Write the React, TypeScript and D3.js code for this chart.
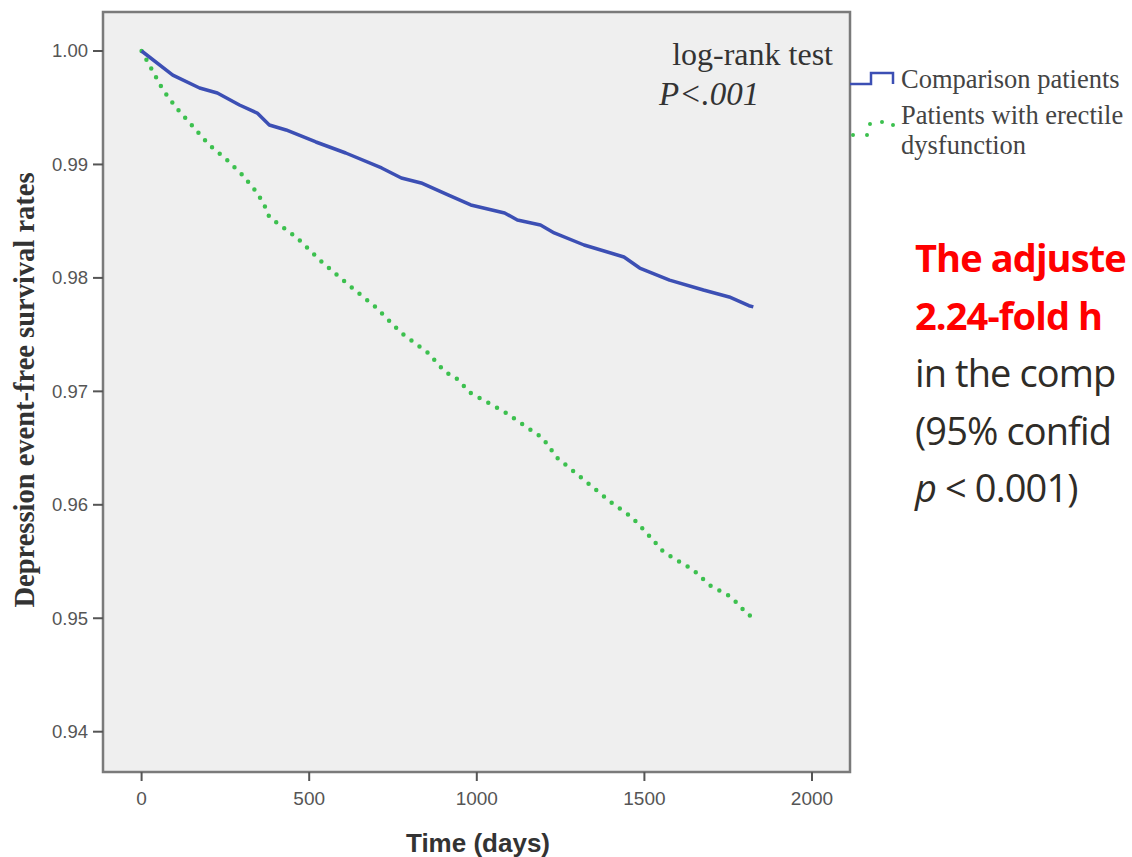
import * as d3 from 'd3'

// survival curves (days, survival rate)
const comparisonDays = [0, 93, 173, 226, 292, 345, 381, 431, 520, 609, 716, 775, 834, 914, 982, 1083, 1121, 1190, 1231, 1320, 1439, 1486, 1575, 1676, 1753, 1812, 1825]
const comparisonRates = [1.0, 0.99788, 0.99674, 0.9963, 0.99524, 0.99453, 0.99348, 0.99304, 0.99198, 0.99101, 0.98969, 0.98881, 0.98837, 0.98731, 0.98643, 0.98572, 0.9851, 0.98466, 0.98396, 0.9829, 0.98184, 0.98087, 0.97981, 0.97893, 0.97832, 0.97755, 0.97745]

const edDays = [0, 64, 104, 152, 202, 252, 301, 345, 366, 381, 461, 538, 618, 698, 775, 855, 905, 935, 982, 1083, 1196, 1240, 1320, 1403, 1462, 1507, 1557, 1646, 1694, 1759, 1810, 1825]
const edRates = [1.0, 0.99656, 0.99498, 0.99339, 0.99171, 0.99048, 0.98907, 0.98748, 0.98643, 0.98537, 0.9836, 0.9814, 0.97937, 0.97743, 0.97514, 0.97338, 0.97171, 0.97127, 0.96985, 0.96818, 0.96589, 0.96413, 0.96219, 0.96016, 0.95892, 0.95751, 0.95584, 0.95425, 0.95293, 0.95187, 0.95029, 0.9501]

const xTicks = [0, 500, 1000, 1500, 2000]
const yTicks = [0.94, 0.95, 0.96, 0.97, 0.98, 0.99, 1.0]

// the note runs off the right edge of the slide; only this much is visible
const noteLines = [
  { text: 'The adjuste', red: true },
  { text: '2.24-fold h', red: true },
  { text: 'in the comp', red: false },
  { text: '(95% confid', red: false },
]

const W = 1132
const H = 857
const frame = { left: 103, right: 850, top: 12, bottom: 772 }

export default function App() {
  const x = d3.scaleLinear().domain([0, 2000]).range([141.6, 812])
  const y = d3.scaleLinear().domain([0.94, 1.0]).range([731.7, 51])

  const line = d3.line<[number, number]>().x((d) => x(d[0])).y((d) => y(d[1]))
  const blue = line(comparisonDays.map((d, i) => [d, comparisonRates[i]]))
  const green = line(edDays.map((d, i) => [d, edRates[i]]))

  const tickFont = '"Liberation Sans", Arial, sans-serif'
  const serif = '"Liberation Serif", "Times New Roman", serif'
  const noteFont = '"Open Sans", sans-serif'

  return (
    <svg width={W} height={H} style={{ position: 'absolute', left: 0, top: 0, background: '#fff' }}>
      <rect x={frame.left} y={frame.top} width={frame.right - frame.left} height={frame.bottom - frame.top}
        fill="#efefef" stroke="#7a7a7a" strokeWidth={2.5} />

      {yTicks.map((t) => (
        <g key={t} transform={`translate(0,${y(t)})`}>
          <line x1={frame.left - 10} x2={frame.left} stroke="#555" strokeWidth={2} />
          <text x={88} dy="0.35em" textAnchor="end" fontFamily={tickFont} fontSize={18.5} fill="#555">{t.toFixed(2)}</text>
        </g>
      ))}
      {xTicks.map((t) => (
        <g key={t} transform={`translate(${x(t)},0)`}>
          <line y1={frame.bottom} y2={frame.bottom + 9} stroke="#555" strokeWidth={2} />
          <text y={805} textAnchor="middle" fontFamily={tickFont} fontSize={19} fill="#555">{t}</text>
        </g>
      ))}

      <text transform={`translate(34,390) rotate(-90)`} textAnchor="middle" fontFamily={serif}
        fontWeight="bold" fontSize={28.5} fill="#333">Depression event-free survival rates</text>
      <text x={478} y={852} textAnchor="middle" fontFamily={tickFont} fontWeight="bold" fontSize={26} fill="#333">Time (days)</text>

      <path d={green ?? ''} fill="none" stroke="#3cc04e" strokeWidth={4.5} strokeLinecap="round" strokeDasharray="0 10" />
      <path d={blue ?? ''} fill="none" stroke="#3c4fb4" strokeWidth={3.5} strokeLinejoin="round" />

      <text x={833} y={65} textAnchor="end" fontFamily={serif} fontSize={32} fill="#333">log-rank test</text>
      <text x={659} y={105} fontFamily={serif} fontStyle="italic" fontSize={33} fill="#333">P&lt;.001</text>

      {/* legend */}
      <path d="M850,84H871V73H893V84" fill="none" stroke="#3c4fb4" strokeWidth={2.5} />
      <path d="M853,135H870V122H893V135" fill="none" stroke="#3cc04e" strokeWidth={4} strokeLinecap="round" strokeDasharray="0 14" />
      <text x={901} y={88} fontFamily={serif} fontSize={26.5} fill="#444">Comparison patients</text>
      <text x={901} y={124} fontFamily={serif} fontSize={26.5} fill="#444">Patients with erectile</text>
      <text x={901} y={154} fontFamily={serif} fontSize={26.5} fill="#444">dysfunction</text>

      {/* note */}
      {noteLines.map((l, i) => (
        <text key={i} x={915} y={272 + i * 57.5} fontFamily={noteFont} fontSize={38} letterSpacing={-0.9}
          fontWeight={l.red ? 'bold' : 'normal'} fill={l.red ? '#ff0000' : '#2f2c27'}>{l.text}</text>
      ))}
      <text x={915} y={502} fontFamily={noteFont} fontSize={38} letterSpacing={-0.9} fill="#2f2c27">
        <tspan fontStyle="italic">p</tspan> &lt; 0.001)
      </text>
    </svg>
  )
}
